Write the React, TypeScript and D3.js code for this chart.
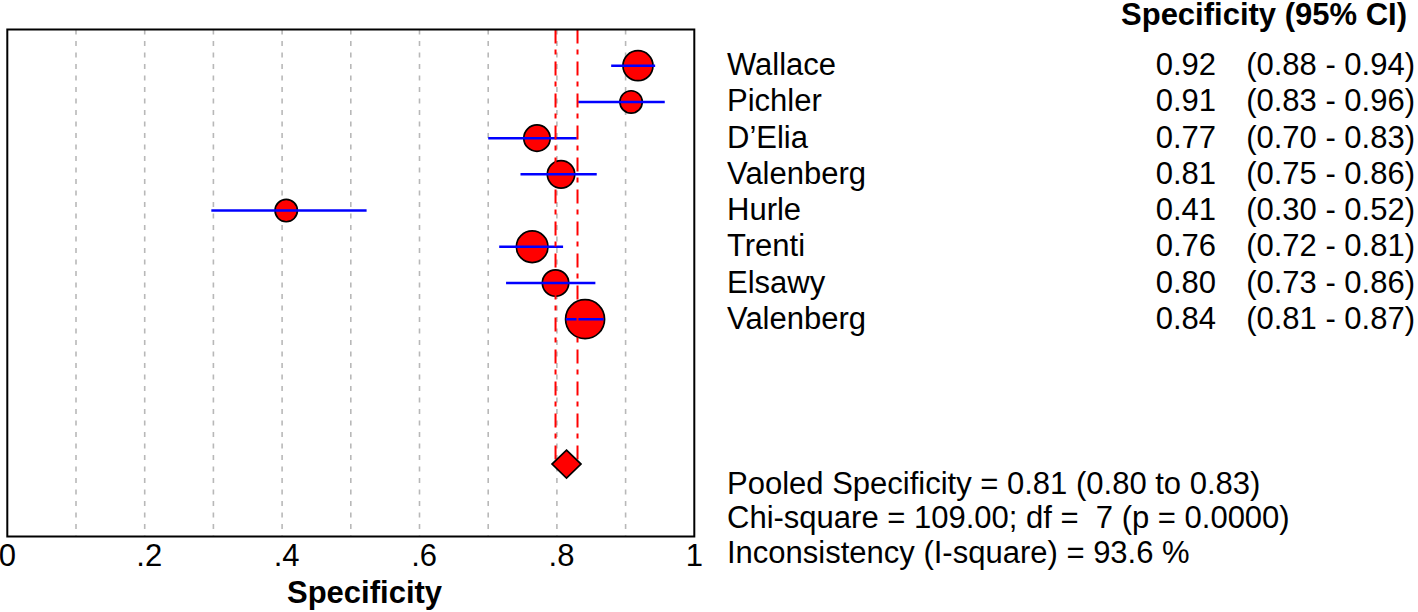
import React from "react";
import * as d3 from "d3";

const studies = ["Wallace", "Pichler", "D\u2019Elia", "Valenberg", "Hurle", "Trenti", "Elsawy", "Valenberg"];
const specificity = [0.918, 0.908, 0.771, 0.806, 0.406, 0.764, 0.798, 0.841];
const lowerCI = [0.879, 0.831, 0.7, 0.747, 0.297, 0.716, 0.726, 0.813];
const upperCI = [0.943, 0.957, 0.829, 0.858, 0.523, 0.809, 0.856, 0.868];
const weights = [225, 125, 174, 188, 125, 250, 174, 380];

const pooledEstimate = 0.814;
const pooledLower = 0.798;
const pooledUpper = 0.83;
const pooledRow = 11;

const gridValues = [0.1, 0.2, 0.3, 0.4, 0.5, 0.6, 0.7, 0.8, 0.9];
const tickValues = [0, 0.2, 0.4, 0.6, 0.8, 1];
const tickLabels = ["0", ".2", ".4", ".6", ".8", "1"];

const headerText = "Specificity (95% CI)";
const axisTitle = "Specificity";
const statsLines = [
  "Pooled Specificity = 0.81 (0.80 to 0.83)",
  "Chi-square = 109.00; df =  7 (p = 0.0000)",
  "Inconsistency (I-square) = 93.6 %",
];

const FONT = "'Liberation Sans', Arial, Helvetica, sans-serif";

export default function App() {
  const W = 1418;
  const H = 612;
  const left = 7.3;
  const right = 694.3;
  const top = 29.5;
  const bottom = 536.5;

  const x = d3.scaleLinear().domain([0, 1]).range([left, right]);
  const y = d3.scaleLinear().domain([-1, 13]).range([top, bottom]);
  const r = d3.scaleSqrt().domain([0, d3.max(weights) as number]).range([0, 19.5]);

  const fmt = (v: number) => v.toFixed(2);
  const py = y(pooledRow);
  const px = x(pooledEstimate);
  const diamond = [
    [px, py - 14],
    [px + 14.5, py],
    [px, py + 14],
    [px - 14.5, py],
  ];

  return (
    <svg
      width={W}
      height={H}
      style={{ position: "absolute", left: 0, top: 0, background: "#fff" }}
      fontFamily={FONT}
    >
      <rect x={0} y={0} width={W} height={H} fill="#fff" />
      {gridValues.map((g) => (
        <line
          key={"g" + g}
          x1={x(g)}
          x2={x(g)}
          y1={top}
          y2={bottom}
          stroke="#b8b8b8"
          strokeWidth={1.6}
          strokeDasharray="5,6.5"
        />
      ))}
      {studies.map((s, i) => (
        <circle
          key={"c" + i}
          cx={x(specificity[i])}
          cy={y(i)}
          r={r(weights[i])}
          fill="#ff0000"
          stroke="#000"
          strokeWidth={1.7}
        />
      ))}
      {studies.map((s, i) => (
        <line
          key={"ci" + i}
          x1={x(lowerCI[i])}
          x2={x(upperCI[i])}
          y1={y(i)}
          y2={y(i)}
          stroke="#0000ff"
          strokeWidth={2.5}
        />
      ))}
      {[pooledLower, pooledUpper].map((v, k) => (
        <line
          key={"p" + k}
          x1={x(v)}
          x2={x(v)}
          y1={top}
          y2={py}
          stroke="#ff0000"
          strokeWidth={2}
          strokeDasharray="14,6,5,7"
        />
      ))}
      <polygon
        points={diamond.map((p) => p.join(",")).join(" ")}
        fill="#ff0000"
        stroke="#000"
        strokeWidth={1.7}
      />
      <rect
        x={left}
        y={top}
        width={right - left}
        height={bottom - top}
        fill="none"
        stroke="#000"
        strokeWidth={2}
      />
      {tickValues.map((t, i) => (
        <text
          key={"t" + i}
          x={t === 0 || t === 1 ? x(t) : x(t) + 17.5}
          y={566}
          fontSize={31}
          textAnchor={t === 0 || t === 1 ? "middle" : "end"}
          fill="#000"
        >
          {tickLabels[i]}
        </text>
      ))}
      <text x={287} y={603} fontSize={31} fontWeight="bold" fill="#000">
        {axisTitle}
      </text>
      <text x={1407} y={25} fontSize={31} fontWeight="bold" textAnchor="end" fill="#000">
        {headerText}
      </text>
      {studies.map((s, i) => (
        <g key={"row" + i} fontSize={31} fill="#000">
          <text x={727} y={y(i) + 9.5}>
            {s}
          </text>
          <text x={1216} y={y(i) + 9.5} textAnchor="end">
            {fmt(specificity[i])}
          </text>
          <text x={1415} y={y(i) + 9.5} textAnchor="end">
            {"(" + fmt(lowerCI[i]) + " - " + fmt(upperCI[i]) + ")"}
          </text>
        </g>
      ))}
      {statsLines.map((l, i) => (
        <text key={"s" + i} x={727} y={493.5 + i * 34.5} fontSize={31} fill="#000" style={{ whiteSpace: "pre" }}>
          {l}
        </text>
      ))}
    </svg>
  );
}
